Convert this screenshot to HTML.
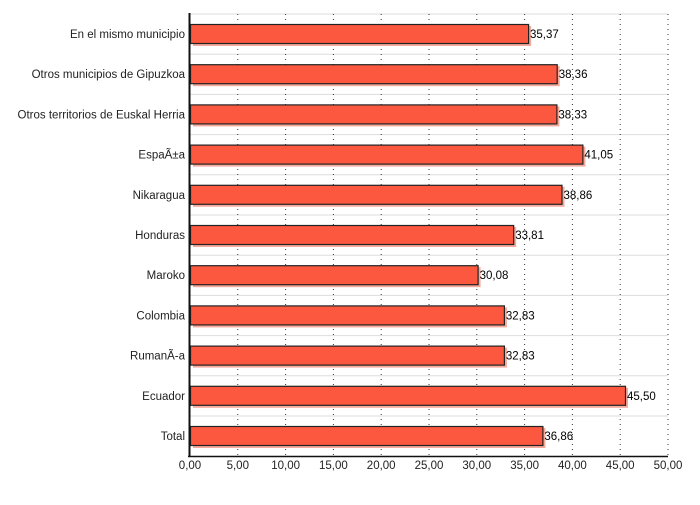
<!DOCTYPE html>
<html><head><meta charset="utf-8"><style>body{margin:0;background:#fff}</style></head><body>
<svg width="700" height="500" xmlns="http://www.w3.org/2000/svg" font-family="Liberation Sans, sans-serif" font-size="11.5">
<rect width="700" height="500" fill="#fff"/>
<g stroke="#ddd">
<line x1="190" y1="14" x2="668" y2="14"/><line x1="190" y1="54.2" x2="668" y2="54.2"/><line x1="190" y1="94.4" x2="668" y2="94.4"/><line x1="190" y1="134.6" x2="668" y2="134.6"/><line x1="190" y1="174.8" x2="668" y2="174.8"/><line x1="190" y1="215" x2="668" y2="215"/><line x1="190" y1="255.2" x2="668" y2="255.2"/><line x1="190" y1="295.4" x2="668" y2="295.4"/><line x1="190" y1="335.6" x2="668" y2="335.6"/><line x1="190" y1="375.8" x2="668" y2="375.8"/><line x1="190" y1="416" x2="668" y2="416"/>
</g>
<g stroke="#333" stroke-dasharray="1,4">
<line x1="237.8" y1="14" x2="237.8" y2="456"/><line x1="285.6" y1="14" x2="285.6" y2="456"/><line x1="333.4" y1="14" x2="333.4" y2="456"/><line x1="381.2" y1="14" x2="381.2" y2="456"/><line x1="429" y1="14" x2="429" y2="456"/><line x1="476.8" y1="14" x2="476.8" y2="456"/><line x1="524.6" y1="14" x2="524.6" y2="456"/><line x1="572.4" y1="14" x2="572.4" y2="456"/><line x1="620.2" y1="14" x2="620.2" y2="456"/><line x1="668" y1="14" x2="668" y2="456"/>
</g>
<g fill="#f3a99c">
<rect x="193" y="26" width="338.1" height="20"/><rect x="193" y="66.2" width="366.7" height="20"/><rect x="193" y="106.4" width="366.4" height="20"/><rect x="193" y="146.6" width="392.4" height="20"/><rect x="193" y="186.8" width="371.5" height="20"/><rect x="193" y="227" width="323.2" height="20"/><rect x="193" y="267.2" width="287.6" height="20"/><rect x="193" y="307.4" width="313.9" height="20"/><rect x="193" y="347.6" width="313.9" height="20"/><rect x="193" y="387.8" width="435" height="20"/><rect x="193" y="428" width="352.4" height="20"/>
</g>
<g fill="#fc5840" stroke="#222" stroke-width="1.2">
<rect x="190.5" y="24.5" width="338.1" height="19"/><rect x="190.5" y="64.7" width="366.7" height="19"/><rect x="190.5" y="104.9" width="366.4" height="19"/><rect x="190.5" y="145.1" width="392.4" height="19"/><rect x="190.5" y="185.3" width="371.5" height="19"/><rect x="190.5" y="225.5" width="323.2" height="19"/><rect x="190.5" y="265.7" width="287.6" height="19"/><rect x="190.5" y="305.9" width="313.9" height="19"/><rect x="190.5" y="346.1" width="313.9" height="19"/><rect x="190.5" y="386.3" width="435" height="19"/><rect x="190.5" y="426.5" width="352.4" height="19"/>
</g>
<g text-anchor="end" fill="#222">
<text x="185" y="38">En el mismo municipio</text><text x="185" y="78.2">Otros municipios de Gipuzkoa</text><text x="185" y="118.4">Otros territorios de Euskal Herria</text><text x="185" y="158.6">EspaÃ±a</text><text x="185" y="198.8">Nikaragua</text><text x="185" y="239">Honduras</text><text x="185" y="279.2">Maroko</text><text x="185" y="319.4">Colombia</text><text x="185" y="359.6">RumanÃ-a</text><text x="185" y="399.8">Ecuador</text><text x="185" y="440">Total</text>
</g>
<g fill="#000">
<text x="530" y="38">35,37</text><text x="558.7" y="78.2">38,36</text><text x="558.4" y="118.4">38,33</text><text x="584.4" y="158.6">41,05</text><text x="563.5" y="198.8">38,86</text><text x="515.2" y="239">33,81</text><text x="479.6" y="279.2">30,08</text><text x="505.9" y="319.4">32,83</text><text x="505.9" y="359.6">32,83</text><text x="627" y="399.8">45,50</text><text x="544.4" y="440">36,86</text>
</g>
<g text-anchor="middle" fill="#222">
<text x="190" y="469">0,00</text><text x="237.8" y="469">5,00</text><text x="285.6" y="469">10,00</text><text x="333.4" y="469">15,00</text><text x="381.2" y="469">20,00</text><text x="429" y="469">25,00</text><text x="476.8" y="469">30,00</text><text x="524.6" y="469">35,00</text><text x="572.4" y="469">40,00</text><text x="620.2" y="469">45,00</text><text x="668" y="469">50,00</text>
</g>
<line x1="189.5" y1="13" x2="189.5" y2="457" stroke="#111" stroke-width="2"/>
<line x1="188" y1="456.5" x2="668" y2="456.5" stroke="#111" stroke-width="1.5"/>
</svg>
</body></html>
